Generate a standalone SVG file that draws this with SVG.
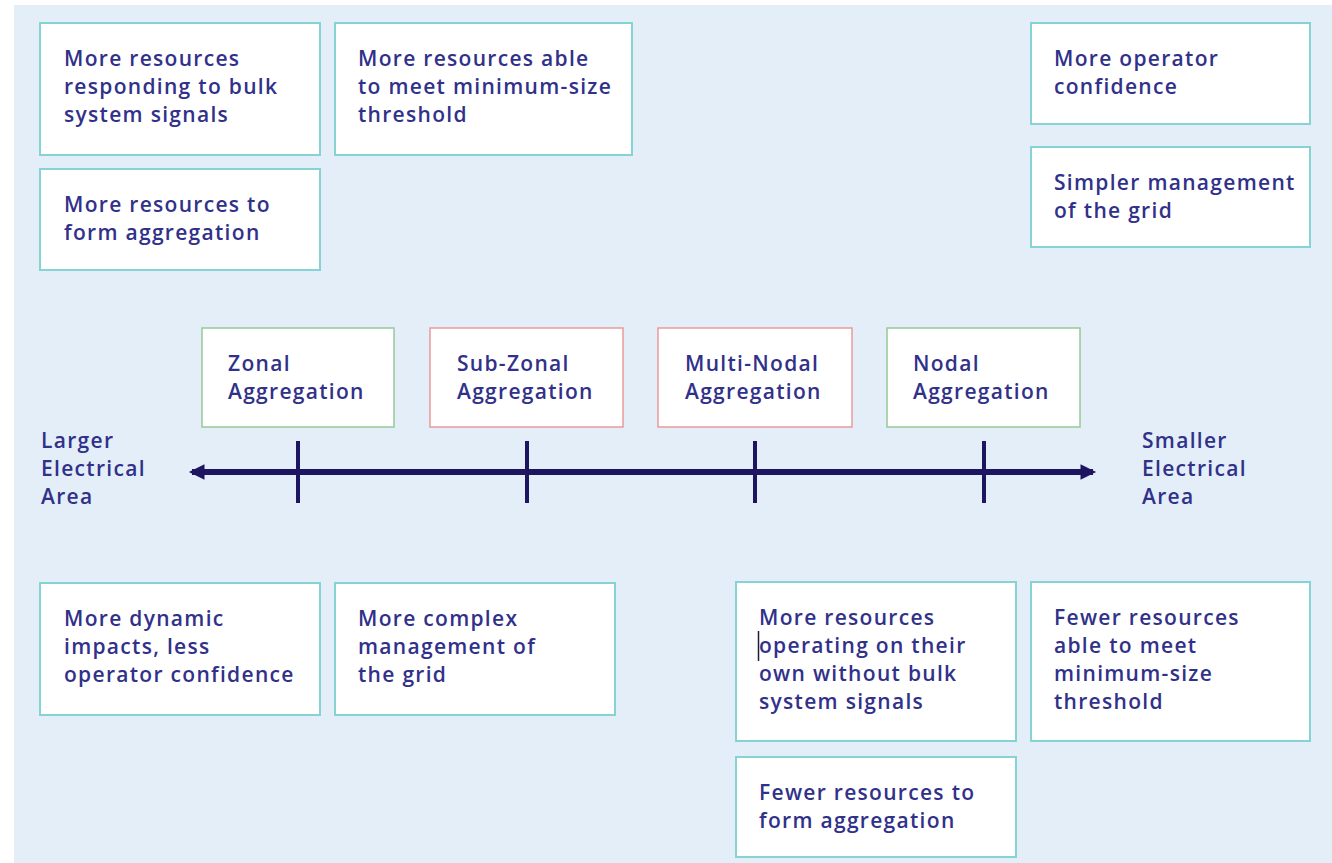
<svg xmlns="http://www.w3.org/2000/svg" width="1332" height="863" viewBox="0 0 1332 863">
  <style>
    .panel { fill: #e3eef9; }
    .box { fill: #ffffff; stroke: #86d3d3; stroke-width: 2; }
    .box-g { fill: #ffffff; stroke: #97c997; stroke-width: 1.5; }
    .box-r { fill: #ffffff; stroke: #e99a9a; stroke-width: 1.5; }
    text { font-family: "Open Sans", "Noto Sans", "Liberation Sans", sans-serif; font-size: 21px; font-weight: 600; fill: #31318a; letter-spacing: 1.3px; }
    .axis { stroke: #1d1560; stroke-width: 6; fill: none; }
    .tick { stroke: #1d1560; stroke-width: 4; }
  </style>
  <defs>
    <marker id="head" viewBox="0 0 10 10" refX="8" refY="5" markerWidth="3" markerHeight="2.6" orient="auto-start-reverse" markerUnits="strokeWidth">
      <path d="M0,0 L10,5 L0,10 z" fill="#1d1560"/>
    </marker>
  </defs>

  <rect class="panel" x="14" y="5" width="1318" height="858"/>

  <!-- upper outcome boxes -->
  <g id="more-bulk-signals">
    <rect class="box" x="40" y="23" width="280" height="132"/>
    <text x="64" y="66">More resources</text>
    <text x="64" y="94">responding to bulk</text>
    <text x="64" y="122">system signals</text>
  </g>
  <g id="more-min-size">
    <rect class="box" x="335" y="23" width="297" height="132"/>
    <text x="358" y="66">More resources able</text>
    <text x="358" y="94">to meet minimum-size</text>
    <text x="358" y="122">threshold</text>
  </g>
  <g id="more-form-aggregation">
    <rect class="box" x="40" y="169" width="280" height="101"/>
    <text x="64" y="212">More resources to</text>
    <text x="64" y="240">form aggregation</text>
  </g>
  <g id="more-confidence">
    <rect class="box" x="1031" y="23" width="279" height="101"/>
    <text x="1054" y="66">More operator</text>
    <text x="1054" y="94">confidence</text>
  </g>
  <g id="simpler-management">
    <rect class="box" x="1031" y="147" width="279" height="100"/>
    <text x="1054" y="190">Simpler management</text>
    <text x="1054" y="218">of the grid</text>
  </g>

  <!-- aggregation levels -->
  <g id="zonal">
    <rect class="box-g" x="202" y="328" width="192" height="99"/>
    <text x="228" y="371">Zonal</text>
    <text x="228" y="399">Aggregation</text>
  </g>
  <g id="sub-zonal">
    <rect class="box-r" x="430" y="328" width="193" height="99"/>
    <text x="457" y="371">Sub-Zonal</text>
    <text x="457" y="399">Aggregation</text>
  </g>
  <g id="multi-nodal">
    <rect class="box-r" x="658" y="328" width="194" height="99"/>
    <text x="685" y="371">Multi-Nodal</text>
    <text x="685" y="399">Aggregation</text>
  </g>
  <g id="nodal">
    <rect class="box-g" x="887" y="328" width="193" height="99"/>
    <text x="913" y="371">Nodal</text>
    <text x="913" y="399">Aggregation</text>
  </g>

  <!-- axis ends -->
  <g id="larger-area">
    <text x="41" y="448">Larger</text>
    <text x="41" y="476">Electrical</text>
    <text x="41" y="504">Area</text>
  </g>
  <g id="smaller-area">
    <text x="1142" y="448">Smaller</text>
    <text x="1142" y="476">Electrical</text>
    <text x="1142" y="504">Area</text>
  </g>

  <!-- scale axis and tick marks -->
  <g id="connectors">
    <line class="axis" x1="192" y1="472" x2="1093" y2="472" marker-start="url(#head)" marker-end="url(#head)"/>
    <line class="tick" x1="298" y1="441" x2="298" y2="503"/>
    <line class="tick" x1="527" y1="441" x2="527" y2="503"/>
    <line class="tick" x1="755" y1="441" x2="755" y2="503"/>
    <line class="tick" x1="984" y1="441" x2="984" y2="503"/>
  </g>

  <!-- lower outcome boxes -->
  <g id="dynamic-impacts">
    <rect class="box" x="40" y="583" width="280" height="132"/>
    <text x="64" y="626">More dynamic</text>
    <text x="64" y="654">impacts, less</text>
    <text x="64" y="682">operator confidence</text>
  </g>
  <g id="complex-management">
    <rect class="box" x="335" y="583" width="280" height="132"/>
    <text x="358" y="626">More complex</text>
    <text x="358" y="654">management of</text>
    <text x="358" y="682">the grid</text>
  </g>
  <g id="own-operation">
    <rect class="box" x="736" y="582" width="280" height="159"/>
    <text x="759" y="625">More resources</text>
    <text x="759" y="653">operating on their</text>
    <text x="759" y="681">own without bulk</text>
    <text x="759" y="709">system signals</text>
    <line x1="758.5" y1="631" x2="758.5" y2="661" stroke="#1d1d3a" stroke-width="1.5"/>
  </g>
  <g id="fewer-min-size">
    <rect class="box" x="1031" y="582" width="279" height="159"/>
    <text x="1054" y="625">Fewer resources</text>
    <text x="1054" y="653">able to meet</text>
    <text x="1054" y="681">minimum-size</text>
    <text x="1054" y="709">threshold</text>
  </g>
  <g id="fewer-form-aggregation">
    <rect class="box" x="736" y="757" width="280" height="100"/>
    <text x="759" y="800">Fewer resources to</text>
    <text x="759" y="828">form aggregation</text>
  </g>
</svg>
